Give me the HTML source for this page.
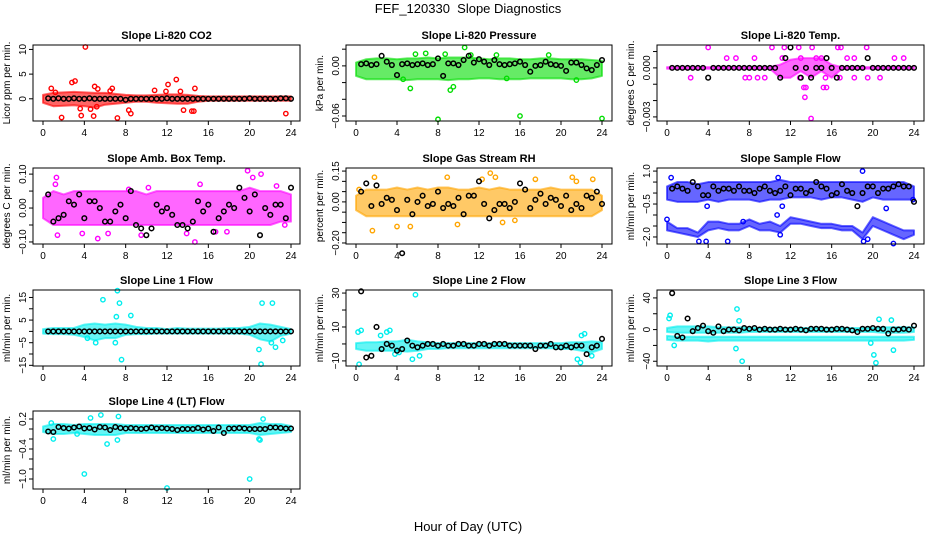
<!DOCTYPE html>
<html><head><meta charset="utf-8"><style>
html,body{margin:0;padding:0;background:#fff;}
svg{display:block;font-family:"Liberation Sans",sans-serif;}
</style></head><body>
<svg id="chart" width="936" height="540" viewBox="0 0 936 540" xmlns="http://www.w3.org/2000/svg">
<rect width="936" height="540" fill="#fff"/>
<text x="468" y="13" font-size="13" text-anchor="middle">FEF_120330&#160; Slope Diagnostics</text>
<text x="468" y="531" font-size="13" text-anchor="middle">Hour of Day (UTC)</text>
</svg>
<script>
// ---- data ----
const hourTicks=[0,4,8,12,16,20,24];
const bandHours=[0,1,2,3,4,5,6,7,8,9,10,11,12,13,14,15,16,17,18,19,20,21,22,23,24];

const co2BandHi=[0.8,1.2,1.3,1.4,1.3,1.2,1.2,1.0,0.8,0.7,0.7,0.8,0.9,0.9,0.8,0.6,0.5,0.5,0.5,0.5,0.5,0.5,0.5,0.5,0.5];
const co2BandLo=[-0.8,-1.5,-1.4,-1.3,-1.5,-1.8,-1.2,-1.0,-0.8,-0.6,-0.6,-0.8,-0.9,-1.0,-1.0,-0.6,-0.4,-0.4,-0.4,-0.4,-0.4,-0.4,-0.4,-0.4,-0.4];
const co2Pts=[[4.1,10.5],[1.8,-3.8],[2.8,3.3],[3.1,3.6],[3.7,-3.4],[3.6,-2],[4.9,-3.5],[5,2.5],[5.3,2],[4.6,-2.1],[7.2,-3.9],[6.7,2.1],[8.3,-2.3],[8.5,-3],[10.8,1.7],[11.9,1.5],[12.1,2.9],[12.9,3.9],[13.3,1.5],[13.6,-2.3],[14.4,-2.5],[14.6,-2.5],[14.7,2.1],[23.5,-3],[0.8,2.1],[1.2,1.3],[5.2,-1.6],[6.5,1.6]];
const co2Black=[0.1,0,0.1,0,0,0.1,0,0,0.1,0,0,0,0,0,0,-0.2,0,0,0,0,0,0,0,0.1,0,0,0,0,0,0,0,0,0,0,0,0,0,0,0,0.1,0,0,0,0,0,0.1,0.1,0];

const presBandHi=[0.004,0.008,0.009,0.009,0.008,0.009,0.009,0.01,0.009,0.01,0.01,0.01,0.009,0.008,0.009,0.009,0.008,0.008,0.009,0.009,0.008,0.008,0.008,0.007,0.006];
const presBandLo=[-0.012,-0.016,-0.016,-0.016,-0.016,-0.017,-0.016,-0.016,-0.016,-0.017,-0.016,-0.016,-0.015,-0.015,-0.016,-0.016,-0.016,-0.015,-0.015,-0.015,-0.015,-0.016,-0.016,-0.015,-0.012];
const presPts=[[8,-0.064],[16,-0.06],[24,-0.063],[10.6,0.022],[5.3,-0.027],[9.2,-0.029],[9.5,-0.025],[6.8,0.015],[8.7,0.014],[4.6,-0.016],[14.7,-0.015],[21.5,-0.017],[11.2,0.013],[13.7,0.013],[18.8,0.013],[5.8,0.014]];
const presBlack=[0.002,0.003,0.001,0.002,0.012,0.005,0.001,-0.011,0.002,0.003,0.001,0.002,0.003,0.001,0.002,0.009,-0.012,0.003,0.003,0.001,0.007,0.012,0.004,0.008,0.005,0.001,0.007,0.002,0.001,0.002,0.003,0.005,0.001,-0.007,0.0,0.001,0.005,0.002,0.001,0.0,-0.006,0.004,0.004,0.001,-0.003,-0.005,0.001,0.007];

const tempBandHi=[0.00005,0.00005,0.00005,0.00005,0.00005,0.00005,0.00005,0.00005,0.00005,0.00005,0.00005,0.0002,0.0005,0.0006,0.0006,0.0006,0.0002,0.00005,0.00005,0.00005,0.00005,0.00005,0.00005,0.00005,0.00005];
const tempBandLo=[-0.00005,-0.00005,-0.00005,-0.00005,-0.00005,-0.00005,-0.00005,-0.00005,-0.00005,-0.00005,-0.00005,-0.0006,-0.0006,-0.0002,-0.0006,-0.0002,-0.0006,-0.00005,-0.00005,-0.00005,-0.00005,-0.00005,-0.00005,-0.00005,-0.00005];
const tempPts=[[4,0.00125],[10.2,0.00125],[11.4,0.00125],[12.8,0.00125],[14.1,0.00125],[16.6,0.00125],[16.9,0.00125],[19.4,0.00125],[5.8,0.0006],[6.7,0.0006],[8.5,0.0006],[11.2,0.0006],[13,0.0006],[14.5,0.0006],[15,0.0006],[17.5,0.0006],[18.2,0.0006],[22.1,0.0006],[23,0.0006],[2.3,-0.0006],[7.6,-0.0006],[8,-0.0006],[8.8,-0.0006],[9.5,-0.0006],[12.9,-0.0006],[15.4,-0.0006],[16.8,-0.0006],[18.2,-0.0006],[19.5,-0.0006],[20.7,-0.0006],[13.3,-0.0012],[13.5,-0.0012],[15.2,-0.0012],[15.5,-0.0012],[13.4,-0.0018],[14,-0.0031]];
const tempBlack=[0,0,0,0,0,0,0,-0.0006,0,0,0,0,0,0,0,0,0,0,0,0,0,-0.0006,0.0006,0.00125,0,-0.0006,0,-0.0006,0,0,0.0006,0,-0.0006,0,0,0,0,0,0.0006,0,0,0,0,0,0,0,0,0];

const ambBandHi=[0.03,0.05,0.04,0.05,0.05,0.05,0.05,0.05,0.05,0.05,0.04,0.05,0.05,0.05,0.05,0.05,0.05,0.05,0.05,0.05,0.06,0.05,0.05,0.05,0.04];
const ambBandLo=[-0.03,-0.05,-0.05,-0.05,-0.05,-0.05,-0.05,-0.05,-0.05,-0.05,-0.05,-0.05,-0.05,-0.05,-0.05,-0.05,-0.05,-0.05,-0.05,-0.05,-0.05,-0.05,-0.05,-0.04,-0.04];
const ambPts=[[1.3,0.09],[1.4,-0.08],[1.2,0.07],[3.8,-0.075],[5.3,-0.09],[6.3,-0.075],[9.5,-0.08],[14.7,-0.1],[15.2,0.07],[19.8,0.11],[20.3,0.09],[21.1,0.1],[17.8,-0.07],[16.7,-0.07],[13.9,-0.075],[10.2,0.06],[8.3,0.055],[22.6,0.065],[23.4,-0.05]];
const ambBlack=[0.04,-0.04,-0.03,-0.02,0.02,0.01,0.04,-0.03,0.02,0.02,0,-0.04,-0.04,-0.01,0.01,-0.03,0.05,-0.05,-0.06,-0.08,-0.06,0.01,-0.01,0,-0.02,-0.05,-0.05,-0.06,-0.04,0.02,-0.01,0.01,-0.07,-0.03,-0.01,0.01,0,0.06,0.03,-0.01,0.04,-0.08,0,-0.02,0.01,0.01,-0.03,0.06];

const rhBandHi=[0.03,0.06,0.06,0.06,0.07,0.06,0.07,0.06,0.07,0.07,0.06,0.06,0.07,0.06,0.07,0.06,0.06,0.06,0.06,0.07,0.06,0.06,0.06,0.06,0.03];
const rhBandLo=[-0.04,-0.07,-0.07,-0.07,-0.07,-0.07,-0.07,-0.07,-0.07,-0.07,-0.07,-0.07,-0.07,-0.07,-0.07,-0.07,-0.07,-0.07,-0.07,-0.07,-0.07,-0.07,-0.07,-0.07,-0.04];
const rhPts=[[1.6,-0.14],[1.8,0.12],[4,-0.12],[5.3,-0.12],[8.9,0.12],[9.9,-0.11],[12.3,0.11],[13.1,0.14],[13.6,0.12],[14.3,-0.1],[15.5,-0.09],[21.1,0.12],[21.5,0.1],[23.1,0.11],[17.5,0.11],[0.3,0.06]];
const rhBlack=[0.05,0.09,-0.02,0.08,-0.01,0.02,0.01,-0.04,-0.25,0.01,-0.06,0,0.03,-0.02,-0.01,0.05,-0.03,-0.01,-0.02,0.02,-0.06,0.03,0.03,0.1,-0.01,-0.08,-0.04,-0.01,-0.01,-0.03,0,0.09,0.06,-0.03,0.01,0.04,-0.01,0.02,0.01,-0.02,0.03,-0.04,-0.01,-0.03,0.03,0.02,0.05,-0.01];

const flowBandHi=[0.3,0.5,0.5,0.4,0.5,0.5,0.5,0.5,0.5,0.5,0.5,0.6,0.5,0.5,0.5,0.5,0.5,0.5,0.5,0.5,0.5,0.5,0.5,0.5,0.3];
const flowBandLo=[-0.3,-0.4,-0.4,-0.4,-0.3,-0.4,-0.3,-0.3,-0.3,-0.4,-0.3,-0.3,-0.2,-0.2,-0.2,-0.3,-0.2,-0.2,-0.3,-0.4,-0.2,-0.3,-0.3,-0.3,-0.3];
const flowLowHi=[-1.3,-1.6,-1.6,-1.8,-1.3,-1.3,-1.4,-1.4,-1.2,-1.4,-1.3,-1.5,-1.1,-1.2,-1.3,-1.4,-1.4,-1.5,-1.5,-1.8,-1.1,-1.3,-1.5,-1.7,-1.7];
const flowLowLo=[-1.7,-1.8,-1.9,-2.0,-1.7,-1.6,-1.7,-1.7,-1.5,-1.7,-1.7,-1.8,-1.4,-1.4,-1.5,-1.6,-1.6,-1.7,-1.7,-2.1,-1.5,-1.7,-1.9,-2.1,-1.9];
const flowPts=[[0,-1.2],[3.1,-2.2],[3.8,-2.2],[5.9,-2.2],[7.4,-1.3],[10.7,-1.0],[11,-1.9],[19.1,-2.2],[19.5,-2.1],[22,-2.3],[21.3,-0.7],[19,1.0],[0.4,0.7],[10.8,0.7],[3.9,-0.6],[11.2,-0.6],[23.9,-0.3]];
const flowBlack=[0.2,0.3,0.2,0.1,0.5,0.3,-0.1,-0.1,0.3,0.1,0.2,0.2,0.1,0.3,0.1,0.1,0,0.2,0.3,0.1,0,0.1,0.3,-0.1,0.2,0.2,0,0.1,0.5,0.3,0.2,-0.1,0.0,0.4,0.1,0,-0.6,0,0.3,0.3,0,0.2,0.2,0.3,0.4,0.3,0.3,-0.4];

const l1BandHi=[1.0,1.5,1.5,1.5,3.0,3.5,3.0,3.5,3.0,2.0,1.5,1.5,1.0,1.5,1.2,1.2,1.2,1.2,1.5,1.5,2.0,3.5,3.0,2.0,1.0];
const l1BandLo=[-1.0,-1.2,-1.2,-1.5,-2.5,-4.0,-3.0,-3.0,-1.5,-1.2,-1.2,-1.0,-1.0,-1.0,-1.0,-1.0,-1.0,-1.0,-1.0,-1.0,-1.5,-3.5,-4.5,-2.0,-1.0];
const l1Pts=[[5.8,14],[7.2,18],[7.4,12.5],[7.6,-12.5],[7.1,6.5],[8.5,7],[21.1,-14.5],[21.2,12.5],[22.2,12.5],[20.9,-8],[22.5,-7],[22.1,-5],[23.2,-4],[7,-5],[5.1,-5],[4.3,-3]];
const l1Black=[0,0,0,0,0,0,0,0,0,0,0,0,0,0,0,0,0,0,0,0,0,0,0,0,0,0,0,0,0,0,0,0,0,0,0,0,0,0,0,0,0,0,0,0,0,0,0,0];

const l2BandHi=[0.5,1.0,1.0,1.5,1.5,2.5,1.5,1.0,0.5,0.5,0.5,0.5,0.5,0.5,0.5,0.5,0.5,0.5,0.5,0.5,0.5,1.0,1.0,1.5,1.0];
const l2BandLo=[-3,-4,-4,-4,-4,-4.5,-4,-3,-3,-2.5,-2.5,-2.5,-2.5,-2.5,-2.5,-2.5,-2.5,-2.5,-2.5,-2.5,-3,-3,-4,-5,-3];
const l2Pts=[[0.3,-12],[0.2,7],[0.5,8],[2.4,5],[3,7],[3.3,8],[5.8,29],[4.2,-5],[5.5,-9],[6.2,-7],[21.6,-9],[21.9,-11],[22,5],[22.3,6],[23,-7],[3.8,-6]];
const l2Black=[31,-8,-7,10,-3,0,-1,-4,-3,2,-1,-2,-1,0,0,-1,0,-1,-1,0,0,-1,-1,0,0,-1,0,0,0,-1,-1,-1,-1,-1,-3,-1,-1,0,-2,-2,-1,-2,-1,-1,-6,-2,-1,3];

const l3BandHi=[2,4,4,4,4,3,3,3,2,2,2,2,2,2,2,2,2,2,2,2,2,3,3,3,3];
const l3BandLo=[-3,-4,-4,-4,-4,-4,-4,-4,-3,-3,-3,-3,-3,-3,-3,-3,-3,-3,-3,-3,-3,-4,-4,-4,-3];
const l3LowHi=[-8,-9,-9,-9,-9,-9,-9,-9,-9,-9,-9,-9,-9,-9,-9,-9,-9,-9,-9,-9,-9,-9,-9,-9,-9];
const l3LowLo=[-13,-14,-14,-14,-15,-14,-14,-14,-14,-14,-14,-14,-14,-14,-14,-14,-14,-14,-14,-14,-14,-14,-14,-14,-13];
const l3Pts=[[0.2,14],[0.3,18],[0.7,-20],[6.8,26],[7,11],[6.7,-24],[7.3,-40],[20.3,-42],[20.1,-32],[20.6,13],[21.8,12],[22,-26],[19.8,-17]];
const l3Black=[46,-8,-10,14,-2,2,5,-2,-4,4,-2,0,0,-1,2,1,2,0,1,0,0,1,0,0,1,0,-1,1,1,1,0,0,1,1,0,-1,-3,1,1,2,1,1,-5,0,0,1,0,5];

const l4BandHi=[0.05,0.1,0.1,0.08,0.1,0.1,0.1,0.1,0.08,0.08,0.08,0.08,0.08,0.08,0.08,0.08,0.08,0.08,0.08,0.08,0.08,0.12,0.1,0.1,0.06];
const l4BandLo=[-0.06,-0.1,-0.1,-0.08,-0.1,-0.12,-0.12,-0.12,-0.08,-0.08,-0.08,-0.08,-0.08,-0.08,-0.08,-0.08,-0.08,-0.08,-0.08,-0.08,-0.08,-0.12,-0.1,-0.08,-0.06];
const l4Pts=[[4,-0.9],[12,-1.18],[20,-1.0],[1,-0.2],[4.6,0.22],[5.6,0.28],[6.2,-0.3],[7.2,-0.22],[7.3,0.25],[21.3,0.2],[20.9,-0.2],[21,-0.22],[0.8,0.12],[3.3,-0.1]];
const l4Black=[-0.05,-0.06,0.04,0.02,0.01,0.03,0.05,0.01,0.02,-0.01,0.04,0.03,-0.02,0.04,0.02,0.01,0.02,0.01,0.0,0.01,0.03,0.01,0.02,0.01,0.0,-0.02,0.0,0.0,0.0,0.02,-0.01,0.01,-0.04,0.03,-0.08,0.01,0.01,0.02,0.01,0.0,0.0,0.0,0.0,0.03,0.03,0.02,0.01,0.01];

// ---- layout ----
const NS="http://www.w3.org/2000/svg";
const svg=document.getElementById('chart');
const cols=[{l:33,r:300,x0:43,x24:291},{l:346,r:612,x0:356,x24:602},{l:657,r:924,x0:667,x24:914}];
const rows=[{t:45,b:121},{t:168,b:244},{t:290,b:366},{t:411,b:489}];
function mk(tag,attrs,parent){const e=document.createElementNS(NS,tag);for(const k in attrs)e.setAttribute(k,attrs[k]);(parent||svg).appendChild(e);return e;}

const panels=[
 {name:'co2',title:'Slope Li-820 CO2',yl:'Licor ppm per min.',c:0,r:0,min:-4.5,max:10.9,col:'#ff0000',ticks:[0,5,10],labs:['0','5','10'],bands:[[co2BandHi,co2BandLo]],pts:co2Pts,black:co2Black},
 {name:'pressure',title:'Slope Li-820 Pressure',yl:'kPa per min.',c:1,r:0,min:-0.066,max:0.025,col:'#00dd00',ticks:[-0.06,-0.04,-0.02,0,0.02],labs:['-0.06','','','0.00',''],bands:[[presBandHi,presBandLo]],pts:presPts,black:presBlack},
 {name:'temp',title:'Slope Li-820 Temp.',yl:'degrees C per min.',c:2,r:0,min:-0.00325,max:0.0014,col:'#ff00ff',ticks:[-0.003,-0.002,-0.001,0,0.001],labs:['-0.003','','','0.000',''],bands:[[tempBandHi,tempBandLo]],pts:tempPts,black:tempBlack},
 {name:'amb-temp',title:'Slope Amb. Box Temp.',yl:'degrees C per min.',c:0,r:1,min:-0.106,max:0.118,col:'#ff00ff',ticks:[-0.1,-0.05,0,0.05,0.1],labs:['-0.10','','0.00','','0.10'],bands:[[ambBandHi,ambBandLo]],pts:ambPts,black:ambBlack},
 {name:'rh',title:'Slope Gas Stream RH',yl:'percent per min.',c:1,r:1,min:-0.205,max:0.165,col:'#ffa500',ticks:[-0.2,-0.15,-0.1,-0.05,0,0.05,0.1,0.15],labs:['-0.20','','','','0.00','','','0.15'],bands:[[rhBandHi,rhBandLo]],pts:rhPts,black:rhBlack},
 {name:'sample-flow',title:'Slope Sample Flow',yl:'ml/min per min.',c:2,r:1,min:-2.32,max:1.14,col:'#0000ff',ticks:[-2,-1.5,-1,-0.5,0,0.5,1],labs:['-2.0','','','-0.5','','','1.0'],bands:[[flowBandHi,flowBandLo],[flowLowHi,flowLowLo]],pts:flowPts,black:flowBlack},
 {name:'line1',title:'Slope Line 1 Flow',yl:'ml/min per min.',c:0,r:2,min:-15.3,max:18.3,col:'#00eeee',ticks:[-15,-10,-5,0,5,10,15],labs:['-15','','-5','','5','','15'],bands:[[l1BandHi,l1BandLo]],pts:l1Pts,black:l1Black},
 {name:'line2',title:'Slope Line 2 Flow',yl:'ml/min per min.',c:1,r:2,min:-13,max:31.8,col:'#00eeee',ticks:[-10,0,10,20,30],labs:['-10','','10','','30'],bands:[[l2BandHi,l2BandLo]],pts:l2Pts,black:l2Black},
 {name:'line3',title:'Slope Line 3 Flow',yl:'ml/min per min.',c:2,r:2,min:-46,max:50,col:'#00eeee',ticks:[-40,-20,0,20,40],labs:['-40','','0','','40'],bands:[[l3BandHi,l3BandLo],[l3LowHi,l3LowLo]],pts:l3Pts,black:l3Black},
 {name:'line4',title:'Slope Line 4 (LT) Flow',yl:'ml/min per min.',c:0,r:3,min:-1.2,max:0.36,col:'#00eeee',ticks:[-1,-0.8,-0.6,-0.4,-0.2,0,0.2],labs:['-1.0','','','-0.4','','','0.2'],bands:[[l4BandHi,l4BandLo]],pts:l4Pts,black:l4Black}
];

panels.forEach(p=>{
 const C=cols[p.c],R=rows[p.r];
 const xs=h=>C.x0+h*(C.x24-C.x0)/24;
 const ys=v=>R.t+(p.max-v)/(p.max-p.min)*(R.b-R.t);
 const g=mk('g',{});
 
 
 const t=mk('text',{x:(C.l+C.r)/2,y:R.t-6,'font-size':11,'font-weight':'bold','text-anchor':'middle'},g);
 t.textContent=p.title;
 
 
 p.bands.forEach(b=>{
  let pts=bandHours.map((h,i)=>xs(h)+','+ys(b[0][i]));
  pts=pts.concat(bandHours.slice().reverse().map((h,j)=>{const i=bandHours.length-1-j;return xs(h)+','+ys(b[1][i]);}));
  const pg=mk('polygon',{points:pts.join(' '),fill:p.col,'fill-opacity':0.6,stroke:p.col,'stroke-width':2,'stroke-opacity':0.6,'stroke-linejoin':'round'},g);
  
  
 });
 p.pts.forEach(d=>{
  const c=mk('circle',{cx:xs(d[0]),cy:ys(d[1]),r:2.2,fill:'none',stroke:p.col,'stroke-width':1.4},g);
  
  
 });
 p.black.forEach((v,i)=>{
  const c=mk('circle',{cx:xs((i+1)*0.5),cy:ys(v),r:2.3,fill:'none',stroke:'#000','stroke-width':1.5},g);
  
  
 });
 const box=mk('rect',{x:C.l,y:R.t,width:C.r-C.l,height:R.b-R.t,fill:'none',stroke:'#000','stroke-width':1},g);
 
 
 hourTicks.forEach(h=>{
  mk('line',{x1:xs(h),x2:xs(h),y1:R.b,y2:R.b+4,stroke:'#000'},g);
  const tl=mk('text',{x:xs(h),y:R.b+15,'font-size':10,'text-anchor':'middle'},g);
  tl.textContent=h;
  
  
 });
 p.ticks.forEach((v,i)=>{
  mk('line',{x1:C.l-4,x2:C.l,y1:ys(v),y2:ys(v),stroke:'#000'},g);
  if(p.labs[i]){
   const yl=mk('text',{x:C.l-7,y:ys(v),'font-size':10,'text-anchor':'middle',transform:'rotate(-90 '+(C.l-7)+' '+ys(v)+')'},g);
   yl.textContent=p.labs[i].replace('-','\u2212');
   
   
  }
 });
 const ym=(R.t+R.b)/2, yx=C.l-23;
 const yt=mk('text',{x:yx,y:ym,'font-size':10,'text-anchor':'middle',transform:'rotate(-90 '+yx+' '+ym+')'},g);
 yt.textContent=p.yl;
 
 
});
</script>
</body></html>
